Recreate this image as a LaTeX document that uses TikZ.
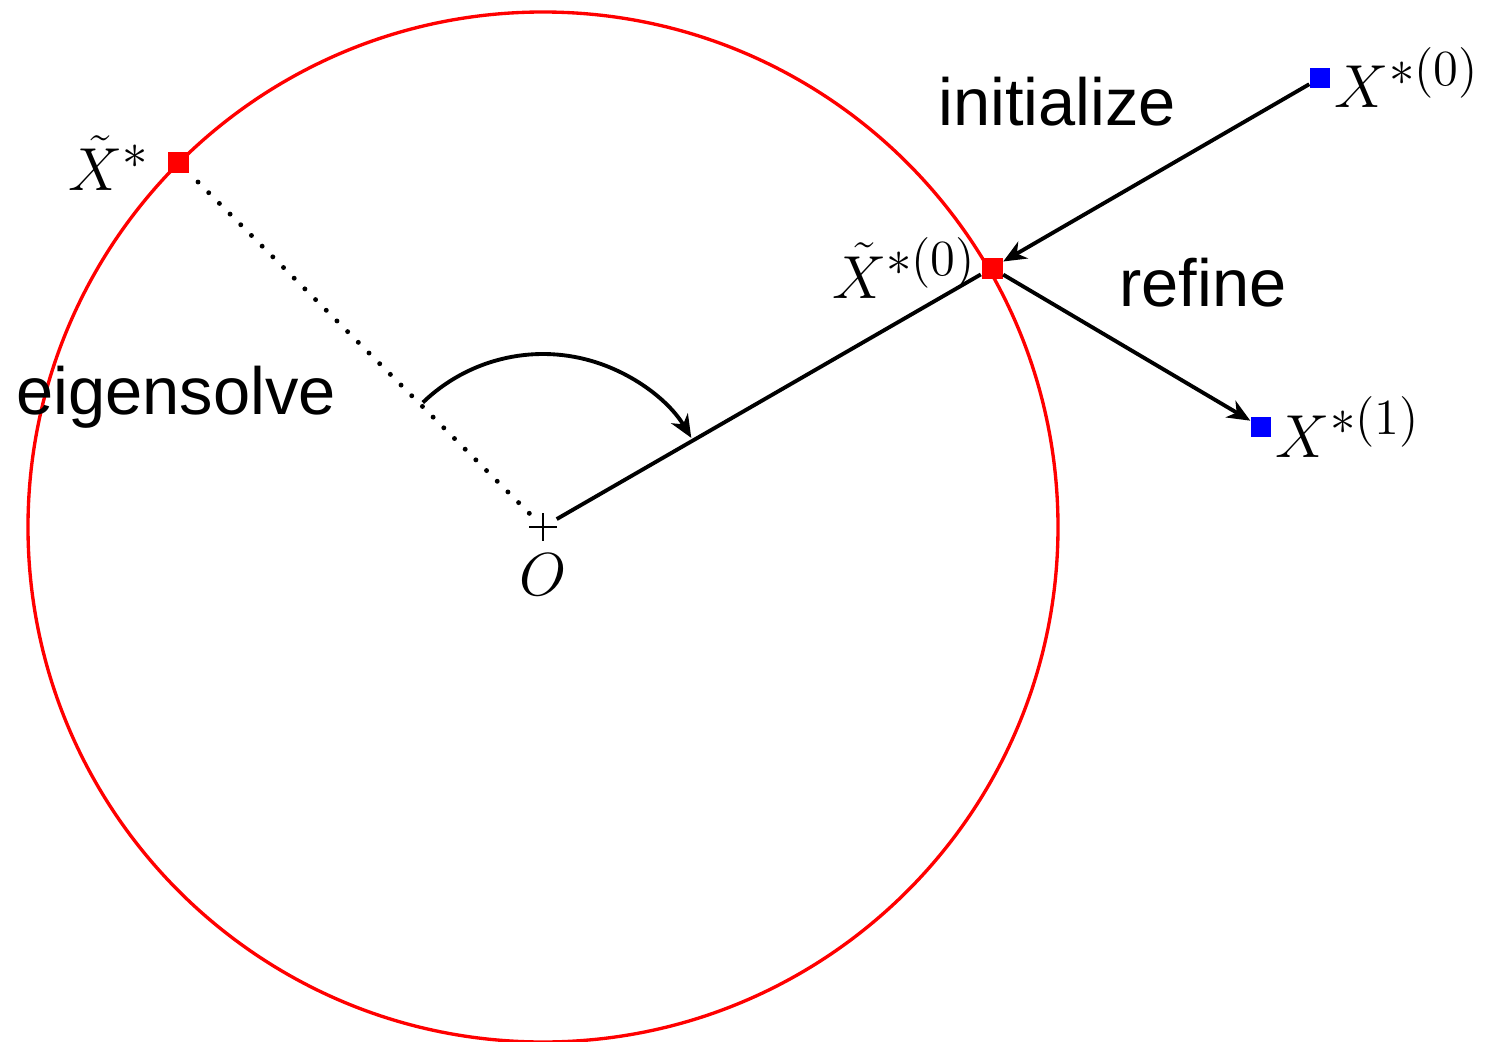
\documentclass[tikz,border=0pt]{standalone}
\usepackage[no-math]{fontspec}
\newfontfamily\labelfont{Liberation Sans}
\usetikzlibrary{arrows.meta,positioning}

\begin{document}
\begin{tikzpicture}[
  >={Stealth[length=6.5pt,width=5.5pt,inset=2pt]},
  conn/.style={line width=1.1pt},
  redpt/.style={fill=red, inner sep=0pt, minimum size=0.21cm},
  bluept/.style={fill=blue, inner sep=0pt, minimum size=0.2cm},
  mlabel/.style={inner sep=1pt, font=\fontsize{19}{23}\selectfont},
  txt/.style={font=\labelfont\fontsize{19}{23}\selectfont}
]
\useasboundingbox (0,0) rectangle (14.89,10.41);
% Circle round the origin
\draw[red, line width=0.95pt] (5.43,5.14) circle (5.15cm);
% Origin marker
\node[inner sep=0pt, minimum size=0.26cm] (O) at (5.43,5.14) {};
\draw[line width=0.5pt] (O.west) -- (O.east) (O.north) -- (O.south);
\node[mlabel, below=2.5pt of O] (Olab) {$O$};
% Points
\node[redpt] (xs) at (135:5.15) [xshift=5.43cm, yshift=5.14cm] {};
\node[redpt] (xtz) at (9.92,7.73) {};
\node[bluept] (xz) at (13.20,9.63) {};
\node[bluept] (xo) at (12.61,6.14) {};
\node[mlabel, left=4pt of xs] (xslab) {$\tilde{X}^*$};
\node[mlabel, left=0pt of xtz] (xtzlab) {$\tilde{X}^{*(0)}$};
\node[mlabel, right=0pt of xz] (xzlab) {$X^{*(0)}$};
\node[mlabel, right=0pt of xo] (xolab) {$X^{*(1)}$};
% Connectors
\draw[line width=1.4pt, line cap=round, dash pattern=on 0pt off 4.3pt] (O) -- (xs);
\draw[conn] (O) -- (xtz);
\draw[conn, ->] (xz) -- (xtz);
\draw[conn, ->] (xtz) -- (xo);
% Rotation arc
\draw[conn, ->] (O.center) ++(134:1.73) arc[start angle=134, end angle=31, radius=1.73];
% Step names
\node[txt] (init) at (10.57,9.39) {initialize};
\node[txt] (refine) at (12.03,7.58) {refine};
\node[txt] (eig) at (1.76,6.44) {eigensolve};
\end{tikzpicture}
\end{document}
